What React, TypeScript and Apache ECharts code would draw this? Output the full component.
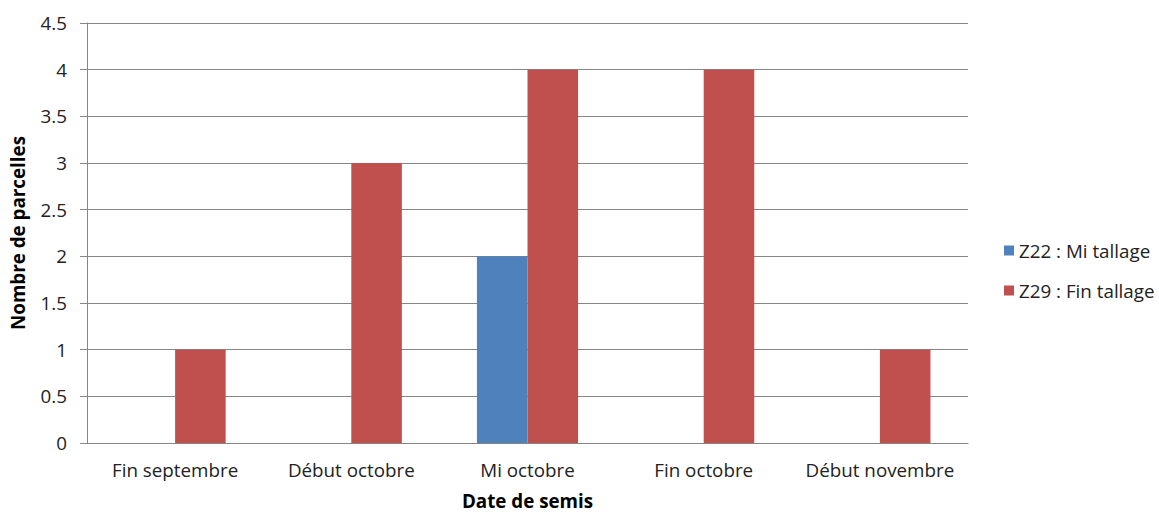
import React, { useEffect, useRef } from "react";
import * as echarts from "echarts";

const categories = ["Fin septembre", "Début octobre", "Mi octobre", "Fin octobre", "Début novembre"];
const z22Values = [0, 0, 2, 0, 0];
const z29Values = [1, 3, 4, 4, 1];
const seriesNames = ["Z22 : Mi tallage", "Z29 : Fin tallage"];

export default function App() {
  const ref = useRef<HTMLDivElement>(null);
  useEffect(() => {
    document.body.style.margin = "0";
    const chart = echarts.init(ref.current!, null, { renderer: "svg" });
    const font = "'Open Sans', Lato, sans-serif";
    const fs = 18.8;
    chart.setOption({
      animation: false,
      textStyle: { fontFamily: font },
      grid: { left: 87, right: 191, top: 23, bottom: 71, outerBoundsMode: "none" },
      legend: {
        orient: "vertical",
        left: 999,
        top: 236,
        itemWidth: 10,
        itemHeight: 10,
        itemGap: 21,
        icon: "rect",
        textStyle: { fontSize: fs, color: "#222", fontFamily: font, padding: [0, 0, 0, 0] },
        data: seriesNames,
      },
      xAxis: {
        type: "category",
        data: categories,
        name: "Date de semis",
        nameLocation: "middle",
        nameGap: 48,
        nameTextStyle: { fontSize: fs, fontWeight: "bold", color: "#000", fontFamily: font },
        axisLine: { lineStyle: { color: "#868686" } },
        axisTick: { show: false },
        axisLabel: { fontSize: fs, color: "#222", margin: 17, fontFamily: font, interval: 0 },
      },
      yAxis: {
        type: "value",
        min: 0,
        max: 4.5,
        interval: 0.5,
        name: "Nombre de parcelles",
        nameLocation: "middle",
        nameGap: 60,
        nameTextStyle: { fontSize: fs, fontWeight: "bold", color: "#000", fontFamily: font },
        axisLine: { show: true, lineStyle: { color: "#868686" } },
        axisTick: { show: true, length: 7, lineStyle: { color: "#868686" } },
        axisLabel: { fontSize: fs, color: "#222", margin: 20, fontFamily: font },
        splitLine: { lineStyle: { color: "#868686" } },
      },
      series: [
        {
          name: seriesNames[0],
          type: "bar",
          data: z22Values,
          itemStyle: { color: "#4F81BD" },
          barGap: "0%",
          barCategoryGap: "42.6%",
        },
        {
          name: seriesNames[1],
          type: "bar",
          data: z29Values,
          itemStyle: { color: "#C0504D" },
          barGap: "0%",
          barCategoryGap: "42.6%",
        },
      ],
    });
    return () => chart.dispose();
  }, []);
  return <div ref={ref} style={{ width: 1159, height: 514 }} />;
}
